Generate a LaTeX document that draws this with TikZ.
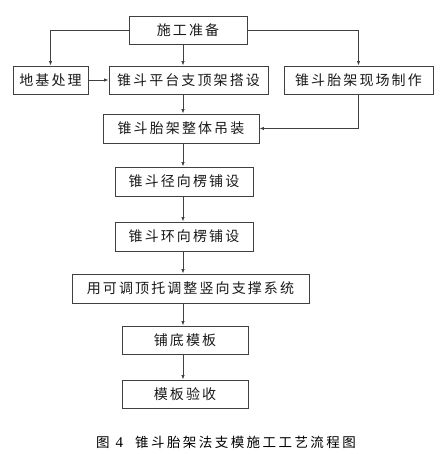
\documentclass[tikz,border=0pt]{standalone}
\usepackage{fontspec}
\setmainfont{Noto Sans CJK SC}[LetterSpace=15]
\newfontfamily\capfont{Noto Sans CJK SC}[LetterSpace=18]
\newfontfamily\digitfont{Liberation Serif}
\usetikzlibrary{arrows.meta}
\begin{document}
\begin{tikzpicture}[x=1pt,y=-1pt,
  box/.style={draw=black!75, line width=0.9pt, inner sep=0pt, align=center,
    font=\fontsize{14}{16}\selectfont, text=black!90},
  conn/.style={draw=black!75, line width=0.8pt, -{Latex[length=4.5pt,width=3.5pt]}}]
\useasboundingbox (0,0) rectangle (443,454);
\node[box, minimum width=118, minimum height=28] (prep) at (188,30) {施工准备};
\node[box, minimum width=75, minimum height=28] (diji) at (50.5,80) {地基处理};
\node[box, minimum width=159, minimum height=28] (pingtai) at (188.5,80) {锥斗平台支顶架搭设};
\node[box, minimum width=149, minimum height=28] (zhizuo) at (358.5,80) {锥斗胎架现场制作};
\node[box, minimum width=156, minimum height=29] (diao) at (181,128.5) {锥斗胎架整体吊装};
\node[box, minimum width=138, minimum height=29] (jing) at (184,181.5) {锥斗径向楞铺设};
\node[box, minimum width=138, minimum height=29] (huan) at (184,236.5) {锥斗环向楞铺设};
\node[box, minimum width=237, minimum height=29] (tiao) at (190.5,288.5) {用可调顶托调整竖向支撑系统};
\node[box, minimum width=126, minimum height=28] (didi) at (185,340) {铺底模板};
\node[box, minimum width=126, minimum height=28] (yan) at (185,394) {模板验收};
\node[inner sep=0pt, font=\capfont\fontsize{13.5}{15}\selectfont, text=black] (cap) at (226,442) {图\kern6pt{\digitfont\fontsize{15}{15}\selectfont 4}\kern12pt 锥斗胎架法支模施工工艺流程图};
\coordinate (col) at (183,0);
\draw[conn] (prep.west) -| (diji.north);
\draw[conn] (prep.east) -| (zhizuo.north);
\draw[conn] (prep.south -| col) -- (pingtai.north -| col);
\draw[conn] (diji.east) -- (pingtai.west);
\draw[conn] (pingtai.south -| col) -- (diao.north -| col);
\draw[conn] (zhizuo.south) |- (diao.east);
\draw[conn] (diao.south -| col) -- (jing.north -| col);
\draw[conn] (jing.south -| col) -- (huan.north -| col);
\draw[conn] (huan.south -| col) -- (tiao.north -| col);
\draw[conn] (tiao.south -| col) -- (didi.north -| col);
\draw[conn] (didi.south -| col) -- (yan.north -| col);
\end{tikzpicture}
\end{document}
